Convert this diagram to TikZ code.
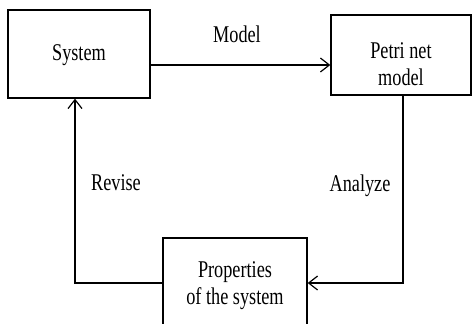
\documentclass[tikz,border=0pt]{standalone}
\usepackage{fontspec}
\setmainfont{Liberation Serif}[FakeStretch=0.76]
\usetikzlibrary{arrows.meta}
\begin{document}
\begin{tikzpicture}[x=1pt,y=1pt,
  box/.style={draw,line width=1.3pt,align=center,inner sep=0pt,font=\fontsize{24}{26.5}\selectfont},
  lbl/.style={font=\fontsize{24}{26.5}\selectfont,inner sep=0pt},
  conn/.style={line width=1.2pt},
  tip/.style={-{Straight Barb[length=9pt,width=14pt,line width=1.2pt]}}]
\useasboundingbox (0,0) rectangle (472,-324);
\clip (0,0) rectangle (472,-324);
\node[box,minimum width=142pt,minimum height=88pt,text height=20pt,text depth=8pt] (sys) at (79,-54) {System};
\node[box,minimum width=140pt,minimum height=80pt,text height=62pt,text depth=2pt] (petri) at (401,-55) {Petri net\\model};
\node[box,minimum width=144pt,minimum height=98pt,text height=37pt,text depth=3pt] (prop) at (235,-287) {Properties\\of the system};
\coordinate (mrow) at (0,-65);
\coordinate (left) at (75,0);
\coordinate (right) at (403,0);
\draw[conn,tip] (sys.east |- mrow) -- (petri.west |- mrow);
\draw[conn,tip] (petri.south -| right) |- ([yshift=4pt]prop.east);
\draw[conn,tip] ([yshift=4pt]prop.west) -| (left |- sys.south);
\node[lbl] (lmodel) at (237,-34) {Model};
\node[lbl] (lrevise) at (116,-183) {Revise};
\node[lbl] (lanalyze) at (360,-186) {Analyze};
\end{tikzpicture}
\end{document}
